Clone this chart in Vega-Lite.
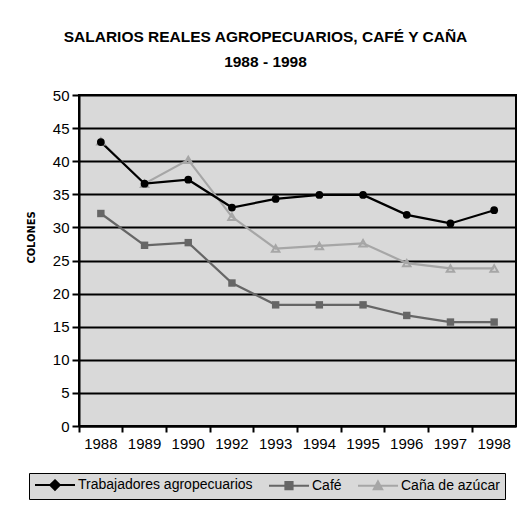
{
  "$schema": "https://vega.github.io/schema/vega-lite/v6.json",
  "autosize": "none",
  "padding": {"left": 79, "top": 95, "right": 13, "bottom": 84},
  "width": 437,
  "height": 331,
  "background": "white",
  "title": {
    "text": ["SALARIOS REALES  AGROPECUARIOS, CAFÉ Y CAÑA", "1988 - 1998"],
    "font": "Liberation Sans",
    "fontSize": 15.5,
    "fontWeight": "bold",
    "lineHeight": 25,
    "color": "black",
    "anchor": "middle",
    "frame": "group",
    "dx": -32,
    "offset": 18
  },
  "data": {
    "values": [
      {"year": "1988", "series": "Caña de azúcar", "value": 43.0},
      {"year": "1989", "series": "Caña de azúcar", "value": 36.6},
      {"year": "1990", "series": "Caña de azúcar", "value": 40.2},
      {"year": "1992", "series": "Caña de azúcar", "value": 31.6},
      {"year": "1993", "series": "Caña de azúcar", "value": 26.8},
      {"year": "1994", "series": "Caña de azúcar", "value": 27.2},
      {"year": "1995", "series": "Caña de azúcar", "value": 27.6},
      {"year": "1996", "series": "Caña de azúcar", "value": 24.6},
      {"year": "1997", "series": "Caña de azúcar", "value": 23.8},
      {"year": "1998", "series": "Caña de azúcar", "value": 23.8},
      {"year": "1988", "series": "Café", "value": 32.1},
      {"year": "1989", "series": "Café", "value": 27.3},
      {"year": "1990", "series": "Café", "value": 27.7},
      {"year": "1992", "series": "Café", "value": 21.6},
      {"year": "1993", "series": "Café", "value": 18.3},
      {"year": "1994", "series": "Café", "value": 18.3},
      {"year": "1995", "series": "Café", "value": 18.3},
      {"year": "1996", "series": "Café", "value": 16.7},
      {"year": "1997", "series": "Café", "value": 15.7},
      {"year": "1998", "series": "Café", "value": 15.7},
      {"year": "1988", "series": "Trabajadores agropecuarios", "value": 42.9},
      {"year": "1989", "series": "Trabajadores agropecuarios", "value": 36.6},
      {"year": "1990", "series": "Trabajadores agropecuarios", "value": 37.2},
      {"year": "1992", "series": "Trabajadores agropecuarios", "value": 33.0},
      {"year": "1993", "series": "Trabajadores agropecuarios", "value": 34.3},
      {"year": "1994", "series": "Trabajadores agropecuarios", "value": 34.9},
      {"year": "1995", "series": "Trabajadores agropecuarios", "value": 34.9},
      {"year": "1996", "series": "Trabajadores agropecuarios", "value": 31.9},
      {"year": "1997", "series": "Trabajadores agropecuarios", "value": 30.6},
      {"year": "1998", "series": "Trabajadores agropecuarios", "value": 32.6}
    ]
  },
  "encoding": {
    "x": {
      "field": "year",
      "type": "ordinal",
      "scale": {"type": "band", "paddingInner": 0, "paddingOuter": 0},
      "axis": {
        "title": null,
        "labelAngle": 0,
        "bandPosition": 0,
        "tickSize": 6,
        "labelPadding": 4,
        "grid": false
      }
    },
    "y": {
      "field": "value",
      "type": "quantitative",
      "scale": {"domain": [0, 50], "nice": false, "zero": true},
      "axis": {
        "title": "COLONES",
        "values": [0, 5, 10, 15, 20, 25, 30, 35, 40, 45, 50],
        "tickSize": 7,
        "labelPadding": 3,
        "grid": true,
        "titleFont": "DejaVu Sans Condensed",
        "titleFontSize": 11,
        "titleFontWeight": "bold",
        "titlePadding": 16,
        "titleY": 142
      }
    }
  },
  "layer": [
    {
      "mark": {"type": "line", "strokeWidth": 2.2},
      "encoding": {
        "color": {
          "field": "series",
          "type": "nominal",
          "scale": {
            "domain": ["Trabajadores agropecuarios", "Café", "Caña de azúcar"],
            "range": ["#000000", "#666666", "#a6a6a6"]
          },
          "legend": {
            "title": null,
            "orient": "none",
            "direction": "horizontal",
            "legendX": -50,
            "legendY": 378,
            "symbolSize": 144,
            "symbolStrokeWidth": 2,
            "labelFont": "Liberation Sans",
            "labelFontSize": 14,
            "labelLimit": 300,
            "labelColor": "black",
            "labelOffset": 30,
            "columnPadding": 12,
            "padding": 5,
            "fillColor": "#d9d9d9",
            "strokeColor": "#000000",
            "encode": {
              "symbols": {
                "update": {
                  "shape": {"signal": "datum.value === 'Café' ? 'M-1,0H5.67M1.73,-0.6H2.93V0.6H1.73Z' : (datum.value === 'Caña de azúcar' ? 'M-1,0H5.67M2.33,-0.75L3.03,0.55L1.63,0.55Z' : 'M-1,0H5.67M2.33,-0.8L3.13,0L2.33,0.8L1.53,0Z')"},
                  "fill": {"signal": "scale('color', datum.value)"}
                }
              }
            }
          }
        },
        "detail": {"field": "series"}
      }
    },
    {
      "mark": {"type": "point", "filled": true, "shape": "square", "size": 55, "opacity": 1, "color": "#666666"},
      "transform": [{"filter": "datum.series === 'Café'"}]
    },
    {
      "mark": {"type": "point", "filled": false, "shape": "triangle-up", "size": 55, "strokeWidth": 2, "opacity": 1, "color": "#a6a6a6"},
      "transform": [{"filter": "datum.series === 'Caña de azúcar'"}]
    },
    {
      "mark": {"type": "point", "filled": true, "shape": "circle", "size": 60, "opacity": 1, "color": "#000000"},
      "transform": [{"filter": "datum.series === 'Trabajadores agropecuarios'"}]
    }
  ],
  "config": {
    "font": "Liberation Sans",
    "view": {"fill": "#d9d9d9", "stroke": "#000000", "strokeWidth": 2},
    "axis": {
      "domainColor": "#000000",
      "domainWidth": 2,
      "tickColor": "#000000",
      "tickWidth": 2,
      "gridColor": "#000000",
      "gridWidth": 2,
      "gridOpacity": 1,
      "labelFont": "Liberation Sans",
      "labelFontSize": 15,
      "labelColor": "#000000",
      "titleColor": "#000000"
    }
  }
}
